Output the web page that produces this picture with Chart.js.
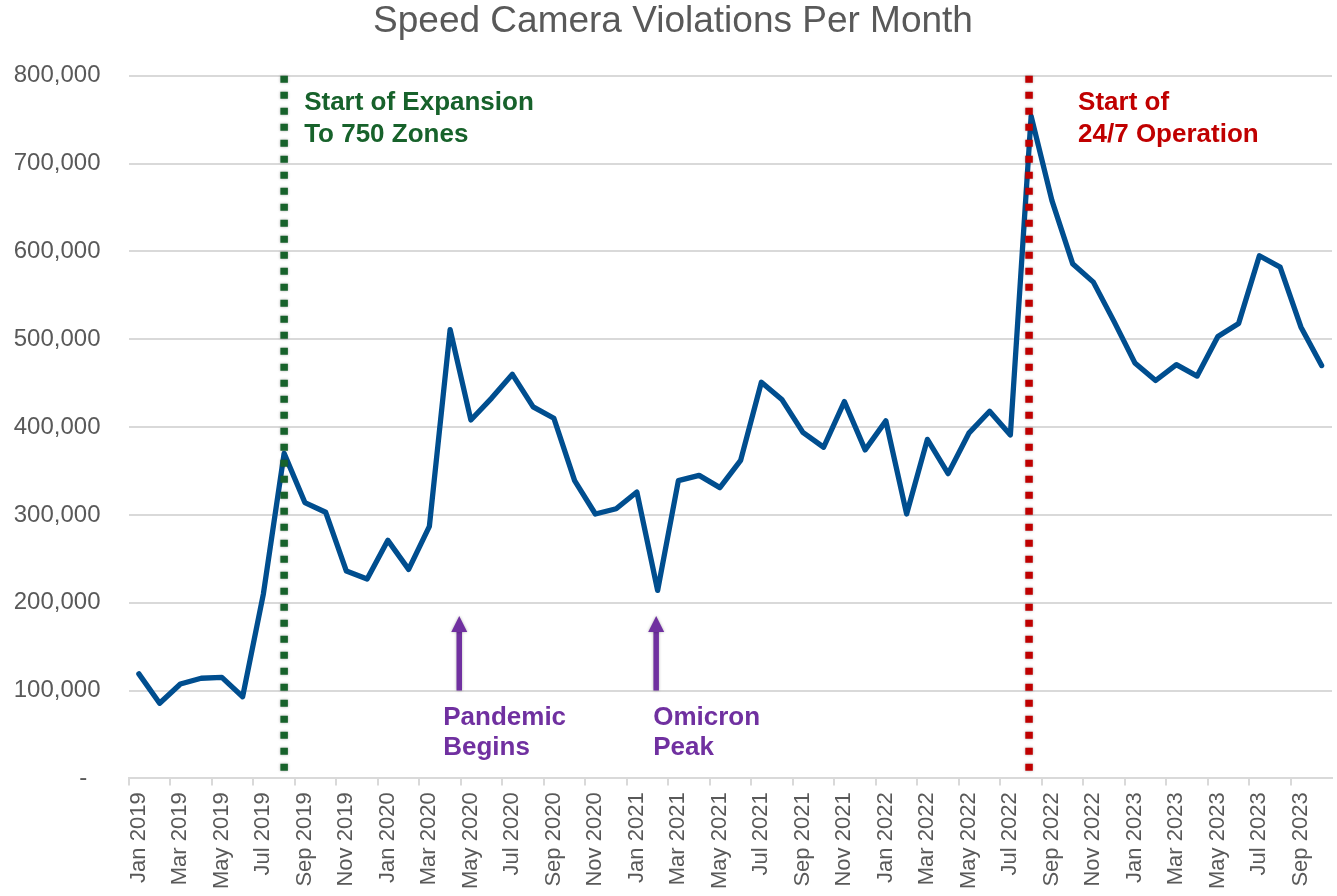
<!DOCTYPE html>
<html>
<head>
<meta charset="utf-8">
<title>Speed Camera Violations Per Month</title>
<script src="https://cdn.jsdelivr.net/npm/chart.js@4.4.1/dist/chart.umd.min.js"></script>
<style>
  html, body { margin: 0; padding: 0; background: #fff; }
  canvas { display: block; }
</style>
</head>
<body>
<canvas id="speedChart" width="1337" height="896"></canvas>
<script>
// Data
const months = [
  'Jan 2019', 'Feb 2019', 'Mar 2019', 'Apr 2019', 'May 2019', 'Jun 2019',
  'Jul 2019', 'Aug 2019', 'Sep 2019', 'Oct 2019', 'Nov 2019', 'Dec 2019',
  'Jan 2020', 'Feb 2020', 'Mar 2020', 'Apr 2020', 'May 2020', 'Jun 2020',
  'Jul 2020', 'Aug 2020', 'Sep 2020', 'Oct 2020', 'Nov 2020', 'Dec 2020',
  'Jan 2021', 'Feb 2021', 'Mar 2021', 'Apr 2021', 'May 2021', 'Jun 2021',
  'Jul 2021', 'Aug 2021', 'Sep 2021', 'Oct 2021', 'Nov 2021', 'Dec 2021',
  'Jan 2022', 'Feb 2022', 'Mar 2022', 'Apr 2022', 'May 2022', 'Jun 2022',
  'Jul 2022', 'Aug 2022', 'Sep 2022', 'Oct 2022', 'Nov 2022', 'Dec 2022',
  'Jan 2023', 'Feb 2023', 'Mar 2023', 'Apr 2023', 'May 2023', 'Jun 2023',
  'Jul 2023', 'Aug 2023', 'Sep 2023', 'Oct 2023'
];

const violations = [
  119000, 85500, 107500, 114000, 115000, 93000,
  210000, 370000, 314000, 303000, 236000, 227000,
  271000, 238000, 287000, 511000, 408000, 433000,
  460000, 423000, 410000, 339000, 301000, 307000,
  326000, 214000, 339000, 345000, 331000, 362000,
  451000, 431000, 394000, 377000, 429000, 374000,
  407000, 301000, 386000, 347000, 393000, 418000,
  391000, 754000, 658000, 586000, 565000, 520000,
  473000, 453000, 471000, 458000, 503000, 518000,
  595000, 582000, 514000, 470000
];

const yMin = 0;
const yMax = 800000;
const yStep = 100000;

// Annotations (category index on the x axis)
const eventLines = [
  { at: 7, color: '#17622b', dx: 20, text: ['Start of Expansion', 'To 750 Zones'] },
  { at: 42.9, color: '#c00000', dx: 49, text: ['Start of', '24/7 Operation'] }
];
const eventArrows = [
  { at: 15.44, from: 100000, to: 185000, dx: -16, text: ['Pandemic', 'Begins'] },
  { at: 24.93, from: 100000, to: 185000, dx: -3, text: ['Omicron', 'Peak'] }
];

const FONT = '"Liberation Sans", Arial, sans-serif';
const GREY = '#595959';
const GRID = '#d9d9d9';
const PURPLE = '#7030a0';

// Plugin for dotted event lines, arrows and labels
const notesPlugin = {
  id: 'notes',
  afterDatasetsDraw(chart) {
    const { ctx, chartArea } = chart;
    const x = chart.scales.x;
    const y = chart.scales.y;
    ctx.save();
    ctx.textAlign = 'left';
    ctx.textBaseline = 'alphabetic';
    ctx.font = 'bold 26px ' + FONT;

    eventLines.forEach(line => {
      const px = x.getPixelForValue(line.at);
      ctx.save();
      ctx.strokeStyle = line.color;
      ctx.lineWidth = 7.5;
      ctx.setLineDash([7, 9]);
      ctx.shadowColor = 'rgba(0, 0, 0, 0.3)';
      ctx.shadowBlur = 3;
      ctx.beginPath();
      ctx.moveTo(px, chartArea.top);
      ctx.lineTo(px, chartArea.bottom - 7);
      ctx.stroke();
      ctx.restore();
      ctx.fillStyle = line.color;
      line.text.forEach((t, k) => {
        ctx.fillText(t, px + line.dx, chartArea.top + 34.3 + k * 31.7);
      });
    });

    eventArrows.forEach(a => {
      const px = x.getPixelForValue(a.at);
      const base = y.getPixelForValue(a.from);
      const tip = y.getPixelForValue(a.to);
      ctx.save();
      ctx.shadowColor = 'rgba(0, 0, 0, 0.3)';
      ctx.shadowBlur = 3;
      ctx.strokeStyle = PURPLE;
      ctx.fillStyle = PURPLE;
      ctx.lineWidth = 5.5;
      ctx.beginPath();
      ctx.moveTo(px, base);
      ctx.lineTo(px, tip + 12);
      ctx.stroke();
      ctx.beginPath();
      ctx.moveTo(px, tip);
      ctx.lineTo(px - 8, tip + 16);
      ctx.lineTo(px + 8, tip + 16);
      ctx.closePath();
      ctx.fill();
      ctx.restore();
      ctx.fillStyle = PURPLE;
      a.text.forEach((t, k) => {
        ctx.fillText(t, px + a.dx, base + 34 + k * 30);
      });
    });
    ctx.restore();
  }
};

const ctx = document.getElementById('speedChart').getContext('2d');
new Chart(ctx, {
  type: 'line',
  data: {
    labels: months,
    datasets: [{
      label: 'Violations',
      data: violations,
      borderColor: '#004e8f',
      borderWidth: 5.3,
      borderJoinStyle: 'round',
      borderCapStyle: 'round',
      pointRadius: 0,
      tension: 0,
      fill: false
    }]
  },
  options: {
    responsive: false,
    devicePixelRatio: 1,
    animation: false,
    layout: { padding: { left: 14, right: 5, top: 0, bottom: 0 } },
    plugins: {
      legend: { display: false },
      tooltip: { enabled: false },
      title: {
        display: true,
        text: 'Speed Camera Violations Per Month',
        color: GREY,
        font: { family: FONT, size: 37, weight: 'normal' },
        padding: { top: 0, bottom: 31.3 }
      }
    },
    scales: {
      x: {
        offset: true,
        grid: {
          offset: true,
          drawOnChartArea: false,
          drawTicks: true,
          tickLength: 7,
          lineWidth: 2,
          color: c => (c.index % 2 === 0 ? GRID : 'rgba(0,0,0,0)')
        },
        border: { display: true, color: GRID, width: 2 },
        ticks: {
          autoSkip: false,
          maxRotation: 90,
          minRotation: 90,
          padding: 7,
          color: GREY,
          font: { family: FONT, size: 22 },
          callback: function (value, index) {
            return index % 2 === 0 ? this.getLabelForValue(value) : '';
          }
        },
        afterFit: scale => {
          scale.paddingLeft = 0;
          scale.paddingRight = 0;
        }
      },
      y: {
        min: yMin,
        max: yMax,
        ticks: {
          stepSize: yStep,
          padding: 28,
          color: GREY,
          font: { family: FONT, size: 24 },
          callback: v => (v === 0 ? '-  ' : v.toLocaleString('en-US'))
        },
        grid: { color: GRID, lineWidth: 2, drawTicks: false },
        border: { display: false },
        afterFit: scale => {
          scale.width = 114.5;
        }
      }
    }
  },
  plugins: [notesPlugin]
});
</script>
</body>
</html>
